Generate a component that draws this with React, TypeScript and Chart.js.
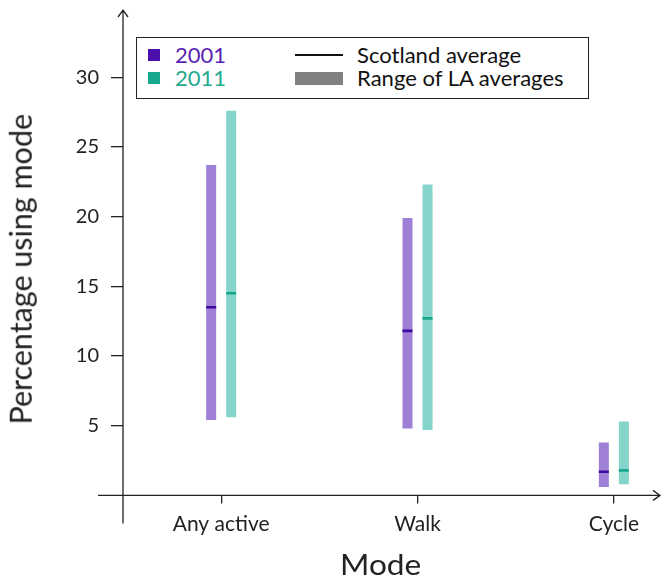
import React, { useEffect, useRef } from 'react';
import { Chart, registerables } from 'chart.js';

Chart.register(...registerables);

const categories = ['Any active', 'Walk', 'Cycle'];
const min2001 = [5.4, 4.8, 0.6];
const max2001 = [23.7, 19.9, 3.8];
const avg2001 = [13.5, 11.8, 1.7];
const min2011 = [5.6, 4.7, 0.8];
const max2011 = [27.6, 22.3, 5.3];
const avg2011 = [14.5, 12.7, 1.8];
const yTicks = [5, 10, 15, 20, 25, 30];
const seriesNames = ['2001', '2011'];
const legendNames = ['Scotland average', 'Range of LA averages'];
const xTitle = 'Mode';
const yTitle = 'Percentage using mode';

const FONT = "Lato, 'Open Sans', sans-serif";
const INK = '#222222';
const RANGE_2001 = '#9e80d6';
const RANGE_2011 = '#85d4c9';
const MEAN_2001 = '#3f0aa0';
const MEAN_2011 = '#17a88c';
const KEY_2001 = '#4b0fab';
const KEY_2011 = '#16a98e';
const TEXT_2001 = '#5a1fb3';
const TEXT_2011 = '#1fa98f';
const MEAN_HALF = 0.095;

const arrowAxes = {
  id: 'arrowAxes',
  afterDraw(chart: any) {
    const { ctx, chartArea, scales } = chart;
    const x0 = scales.x.getPixelForValue(scales.x.min);
    const y0 = scales.y.getPixelForValue(0);
    ctx.save();
    ctx.strokeStyle = INK;
    ctx.lineWidth = 1.3;
    ctx.beginPath();
    ctx.moveTo(x0, y0 + 28);
    ctx.lineTo(x0, chartArea.top);
    ctx.moveTo(x0 - 25, y0);
    ctx.lineTo(chartArea.right, y0);
    ctx.moveTo(x0 - 5, chartArea.top + 7);
    ctx.lineTo(x0, chartArea.top);
    ctx.lineTo(x0 + 5, chartArea.top + 7);
    ctx.moveTo(chartArea.right - 7, y0 - 5);
    ctx.lineTo(chartArea.right, y0);
    ctx.lineTo(chartArea.right - 7, y0 + 5);
    ctx.stroke();
    ctx.restore();
  },
};

function rangeSet(label: string, lo: number[], hi: number[], color: string, stack: string) {
  return {
    type: 'bar' as const,
    label,
    stack,
    order: 1,
    data: categories.map((_, i) => ({ x: i + 1, y: [lo[i], hi[i]] })),
    backgroundColor: color,
    borderWidth: 0,
    categoryPercentage: 0.204,
    barPercentage: 0.5,
  };
}

function meanSet(label: string, avg: number[], color: string, stack: string) {
  return {
    type: 'bar' as const,
    label,
    stack,
    order: 0,
    data: categories.map((_, i) => ({ x: i + 1, y: [avg[i] - MEAN_HALF, avg[i] + MEAN_HALF] })),
    backgroundColor: color,
    borderWidth: 0,
    categoryPercentage: 0.204,
    barPercentage: 0.5,
  };
}

export default function App() {
  const ref = useRef<HTMLCanvasElement | null>(null);

  useEffect(() => {
    if (!ref.current) return;
    const chart = new Chart(ref.current, {
      type: 'bar',
      data: {
        datasets: [
          rangeSet(seriesNames[0], min2001, max2001, RANGE_2001, 'a'),
          rangeSet(seriesNames[1], min2011, max2011, RANGE_2011, 'b'),
          meanSet(seriesNames[0] + ' mean', avg2001, MEAN_2001, 'a'),
          meanSet(seriesNames[1] + ' mean', avg2011, MEAN_2011, 'b'),
        ] as any,
      },
      options: {
        animation: false,
        responsive: true,
        maintainAspectRatio: false,
        events: [],
        layout: { padding: { left: 0, top: 10, right: 2, bottom: 0 } },
        plugins: { legend: { display: false }, tooltip: { enabled: false } },
        scales: {
          x: {
            type: 'linear',
            min: 0.5,
            max: 3.235,
            offset: false,
            afterBuildTicks: (scale: any) => {
              scale.ticks = categories.map((_, i) => ({ value: i + 1 }));
            },
            afterFit: (scale: any) => {
              scale.height = 82.6;
              scale.paddingLeft = 0;
              scale.paddingRight = 0;
            },
            grid: {
              offset: false,
              drawOnChartArea: false,
              drawTicks: true,
              tickLength: 8,
              color: INK,
              lineWidth: 1.3,
            },
            border: { display: false },
            ticks: {
              padding: 8,
              color: INK,
              font: { family: FONT, size: 21 },
              maxRotation: 0,
              autoSkip: false,
              callback: (v: any) => categories[Number(v) - 1] ?? '',
            },
            title: { display: false },
          },
          y: {
            type: 'linear',
            min: 0,
            max: 34.82,
            stacked: false,
            afterBuildTicks: (scale: any) => {
              scale.ticks = yTicks.map((v) => ({ value: v }));
            },
            afterFit: (scale: any) => {
              scale.width = 123;
              scale.paddingTop = 0;
              scale.paddingBottom = 0;
            },
            grid: {
              drawOnChartArea: false,
              drawTicks: true,
              tickLength: 12,
              color: INK,
              lineWidth: 1.3,
            },
            border: { display: false },
            ticks: {
              padding: 12,
              color: INK,
              font: { family: FONT, size: 20 },
            },
            title: { display: false },
          },
        },
      } as any,
      plugins: [arrowAxes],
    });
    return () => chart.destroy();
  }, []);

  const text = (t: string, left: number, top: number, color: string) => (
    <div
      style={{
        position: 'absolute',
        left,
        top,
        lineHeight: '24px',
        height: 24,
        whiteSpace: 'nowrap',
        color,
        transform: 'scaleX(1.05)',
        transformOrigin: 'left center',
      }}
    >
      {t}
    </div>
  );

  return (
    <div style={{ position: 'absolute', left: 0, top: 0, width: 662, height: 578, background: '#fff' }}>
      <canvas ref={ref} />
      <div
        style={{
          position: 'absolute',
          left: 20.2 - 200,
          top: 269.5 - 15.25,
          width: 400,
          height: 30.5,
          lineHeight: '30.5px',
          fontFamily: FONT,
          fontSize: 30.5,
          color: INK,
          textAlign: 'center',
          whiteSpace: 'nowrap',
          transform: 'rotate(-90deg)',
        }}
      >
        {yTitle}
      </div>
      <div
        style={{
          position: 'absolute',
          left: 339.5,
          top: 550.2,
          height: 28,
          lineHeight: '28px',
          fontFamily: FONT,
          fontSize: 28,
          color: INK,
          whiteSpace: 'nowrap',
          transform: 'scaleX(1.13)',
          transformOrigin: 'left center',
        }}
      >
        {xTitle}
      </div>
      <div
        style={{
          position: 'absolute',
          left: 136,
          top: 37,
          width: 453,
          height: 62,
          border: '1.5px solid #222',
          boxSizing: 'border-box',
          fontFamily: FONT,
          fontSize: 21,
          background: '#fff',
        }}
      >
        <div style={{ position: 'absolute', left: 10.5, top: 10.5, width: 12, height: 12, background: KEY_2001 }} />
        {text(seriesNames[0], 37.5, 4.5, TEXT_2001)}
        <div style={{ position: 'absolute', left: 10.5, top: 33.5, width: 12, height: 12, background: KEY_2011 }} />
        {text(seriesNames[1], 37.5, 27.5, TEXT_2011)}
        <div style={{ position: 'absolute', left: 157.5, top: 15.5, width: 48, height: 2, background: '#111' }} />
        {text(legendNames[0], 219.5, 4.5, '#111')}
        <div style={{ position: 'absolute', left: 157.5, top: 33.5, width: 48, height: 13, background: '#808080' }} />
        {text(legendNames[1], 219.5, 27.5, '#111')}
      </div>
    </div>
  );
}
